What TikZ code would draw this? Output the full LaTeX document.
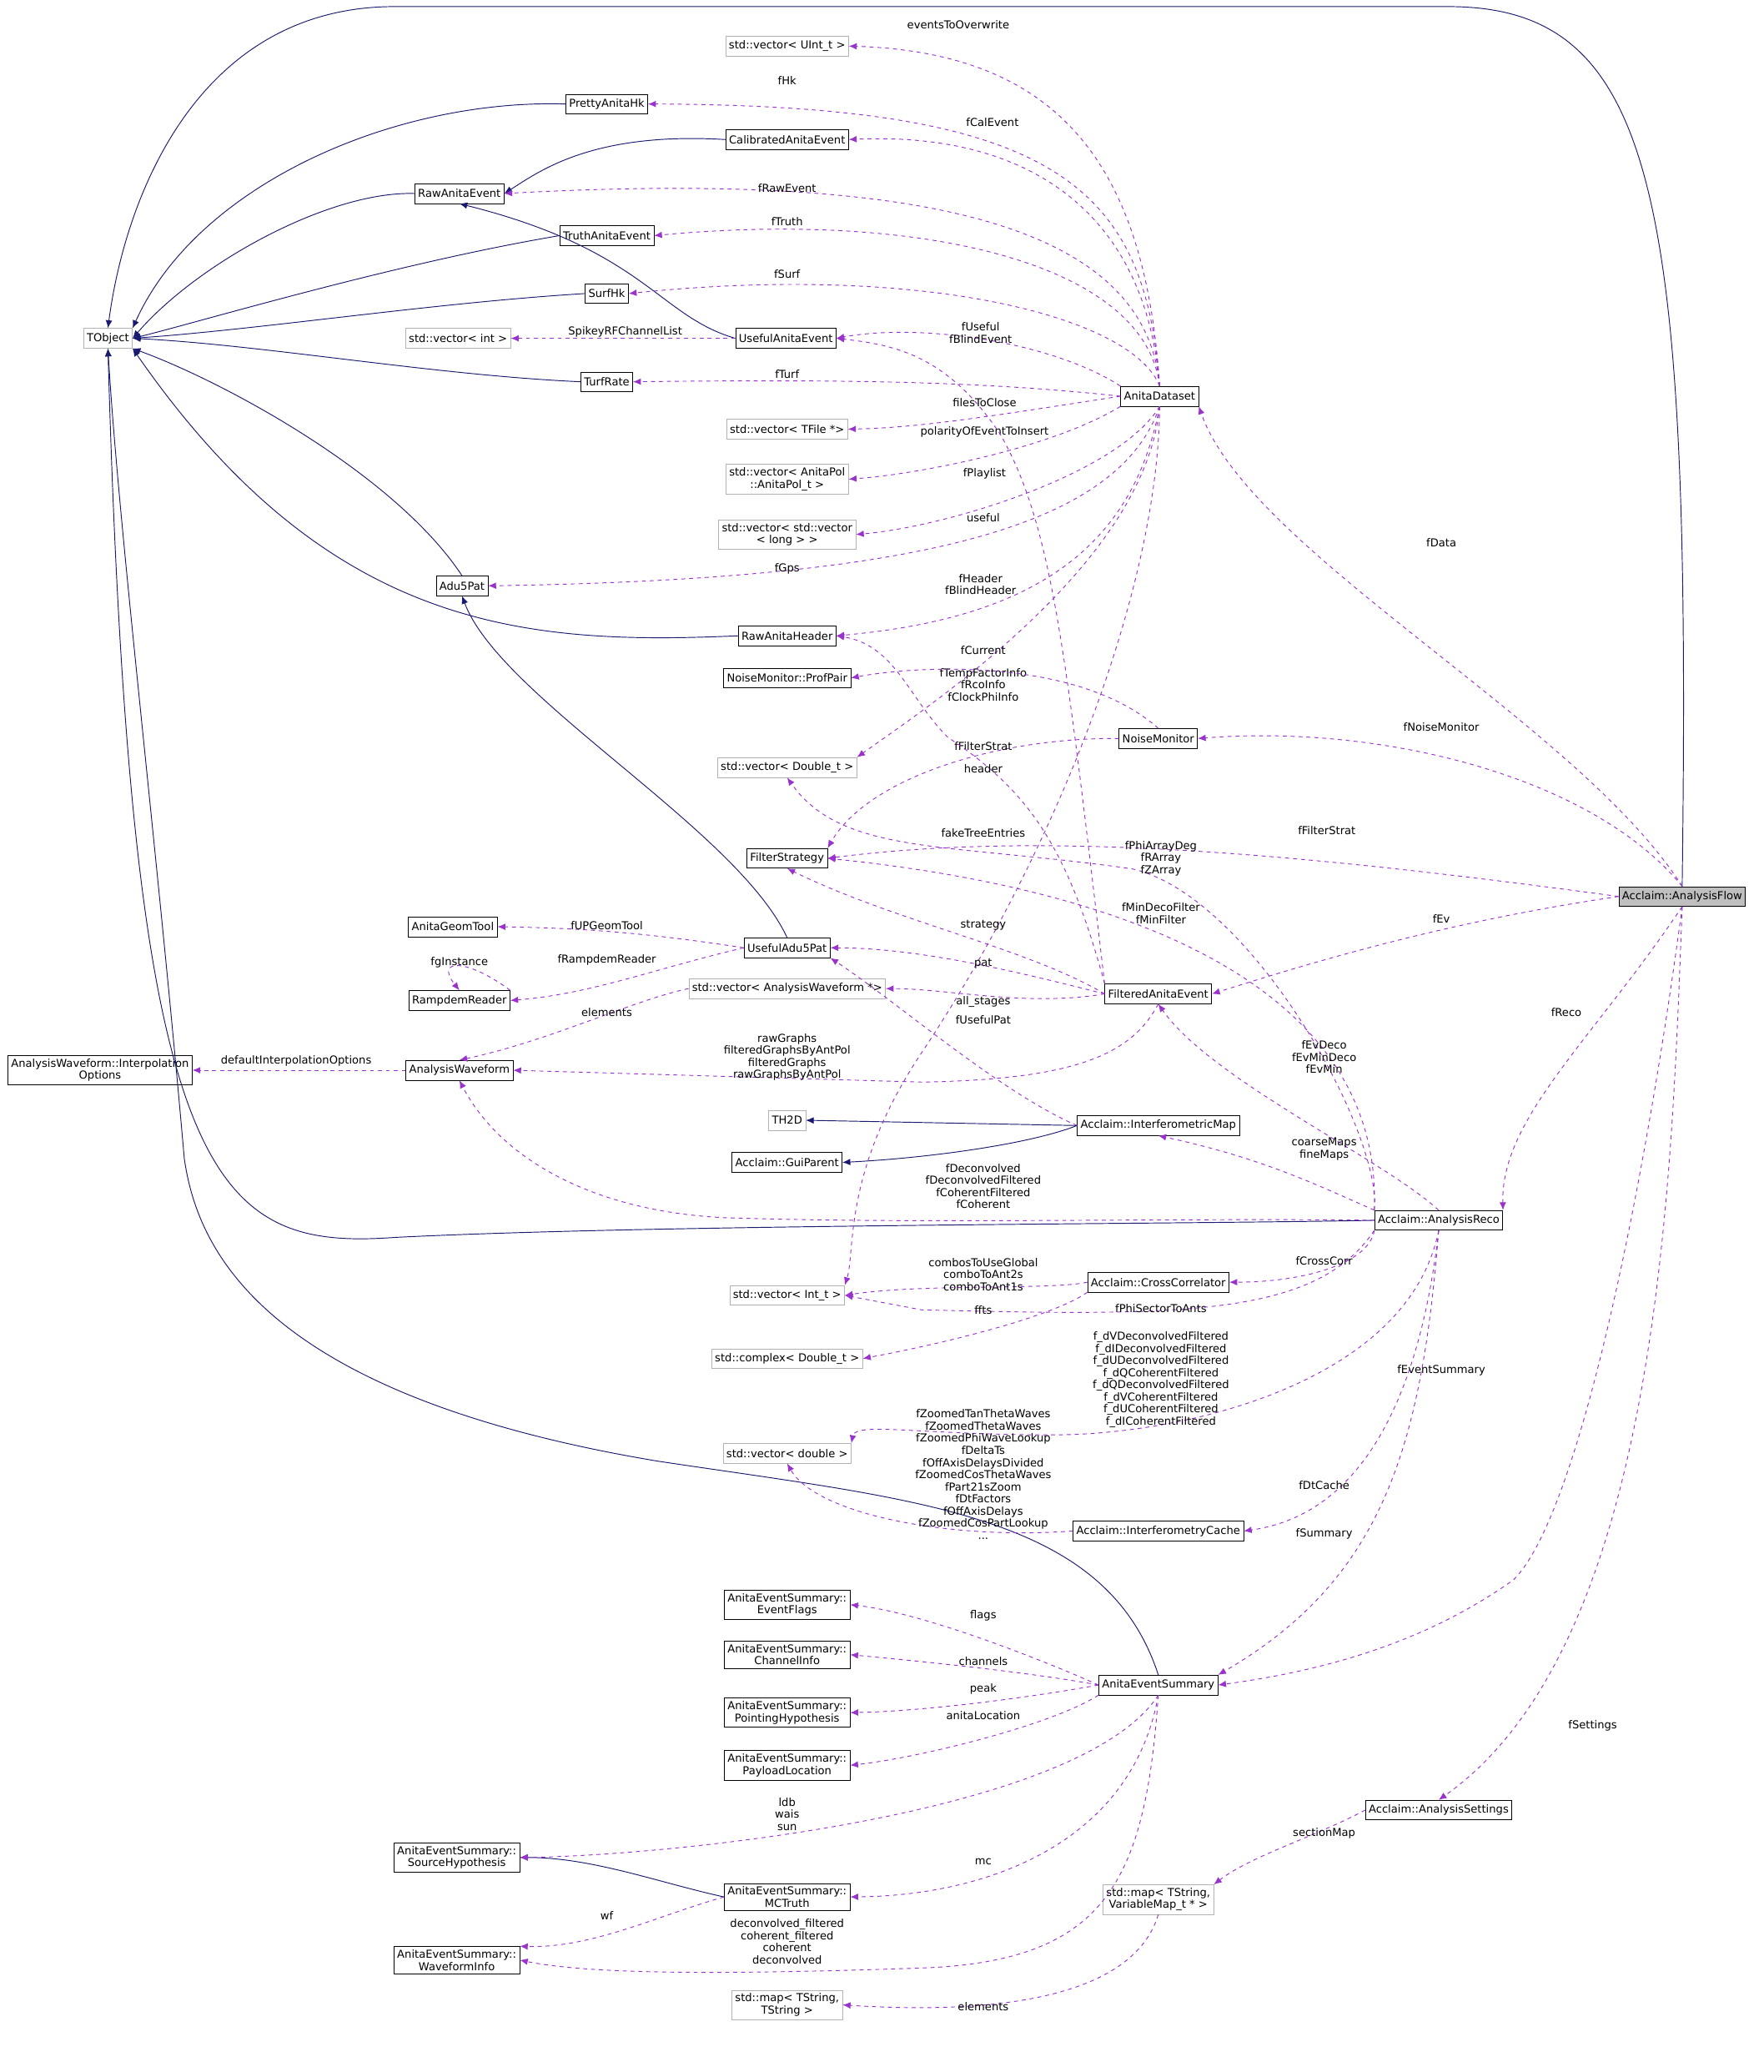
\documentclass[tikz,border=0pt]{standalone}
\usepackage{fontspec}
\setmainfont{DejaVu Sans}
\definecolor{inhc}{RGB}{25,25,112}
\definecolor{depc}{RGB}{154,50,205}
\begin{document}
\begin{tikzpicture}[x=1pt,y=-1pt,
 box/.style={draw=black,fill=white,inner sep=2.5pt,font=\fontsize{8.3}{9.2}\selectfont,align=center,minimum height=15pt},
 gbox/.style={box,draw=black!30},
 inh/.style={draw=inhc,semithick,-{Latex[length=6pt,width=5pt]}},
 dep/.style={draw=depc,dashed,semithick,-{Latex[length=6pt,width=5pt]}},
 lb/.style={font=\fontsize{8.3}{9.2}\selectfont,align=center,inner sep=1pt}]
\useasboundingbox (0,0) rectangle (1340,1574);
\usetikzlibrary{arrows.meta}
% nodes
\node[gbox] (tobj) at (82,257) {TObject};
\node[gbox] (vuint) at (598,35) {std::vector< UInt\_t >};
\node[box] (phk) at (461,79) {PrettyAnitaHk};
\node[box] (cal) at (598,106) {CalibratedAnitaEvent};
\node[box] (rae) at (349,147) {RawAnitaEvent};
\node[box] (truth) at (461,179) {TruthAnitaEvent};
\node[box] (surf) at (461,223) {SurfHk};
\node[gbox] (vint) at (348,257) {std::vector< int >};
\node[box] (uae) at (597,257) {UsefulAnitaEvent};
\node[box] (turf) at (461,290) {TurfRate};
\node[box] (ds) at (881,301) {AnitaDataset};
\node[gbox] (vtfile) at (598,326) {std::vector< TFile *>};
\node[gbox] (vpol) at (598,364) {std::vector< AnitaPol\\::AnitaPol\_t >};
\node[gbox] (vvl) at (598,406) {std::vector< std::vector\\< long > >};
\node[box] (adu) at (351,445) {Adu5Pat};
\node[box] (rah) at (598,483) {RawAnitaHeader};
\node[box] (pp) at (598,515) {NoiseMonitor::ProfPair};
\node[box] (nm) at (880,561) {NoiseMonitor};
\node[gbox] (vdbl) at (598,583) {std::vector< Double\_t >};
\node[box] (fs) at (598,652) {FilterStrategy};
\node[box] (geom) at (344,704) {AnitaGeomTool};
\node[box] (uap) at (598,720) {UsefulAdu5Pat};
\node[box] (ramp) at (349,760) {RampdemReader};
\node[gbox] (vaw) at (598,751) {std::vector< AnalysisWaveform *>};
\node[box] (fae) at (880,755) {FilteredAnitaEvent};
\node[box] (interp) at (76,813) {AnalysisWaveform::Interpolation\\Options};
\node[box] (aw) at (349,813) {AnalysisWaveform};
\node[gbox] (th2d) at (598,851) {TH2D};
\node[box] (imap) at (880,855) {Acclaim::InterferometricMap};
\node[box] (gui) at (598,883) {Acclaim::GuiParent};
\node[box] (reco) at (1093,927) {Acclaim::AnalysisReco};
\node[box,fill=black!25] (flow) at (1278,681) {Acclaim::AnalysisFlow};
\node[box] (cc) at (880,974) {Acclaim::CrossCorrelator};
\node[gbox] (vInt) at (598,984) {std::vector< Int\_t >};
\node[gbox] (cplx) at (598,1032) {std::complex< Double\_t >};
\node[gbox] (vd) at (598,1104) {std::vector< double >};
\node[box] (ic) at (880,1163) {Acclaim::InterferometryCache};
\node[box] (ef) at (598,1219) {AnitaEventSummary::\\EventFlags};
\node[box] (ci) at (598,1257) {AnitaEventSummary::\\ChannelInfo};
\node[box] (ph) at (598,1301) {AnitaEventSummary::\\PointingHypothesis};
\node[box] (pl) at (598,1341) {AnitaEventSummary::\\PayloadLocation};
\node[box] (aes) at (880,1280) {AnitaEventSummary};
\node[box] (sh) at (347,1411) {AnitaEventSummary::\\SourceHypothesis};
\node[box] (mc) at (598,1441) {AnitaEventSummary::\\MCTruth};
\node[box] (wi) at (347,1489) {AnitaEventSummary::\\WaveformInfo};
\node[box] (set) at (1093,1375) {Acclaim::AnalysisSettings};
\node[gbox] (mvm) at (880,1443) {std::map< TString,\\VariableMap\_t * >};
\node[gbox] (mts) at (598,1523) {std::map< TString,\\TString >};
% inheritance
\draw[inh] (flow.north) .. controls (1285,150) and (1260,5) .. (1100,5) -- (300,5) .. controls (150,5) and (95,150) .. (tobj.north);
\draw[inh] (phk.west) .. controls (300,75) and (150,140) .. (tobj.north east);
\draw[inh] (rae.west) .. controls (250,145) and (150,200) .. (tobj.east);
\draw[inh] (truth.west) .. controls (300,200) and (150,245) .. (tobj.east);
\draw[inh] (surf.west) .. controls (330,230) and (200,250) .. (tobj.east);
\draw[inh] (turf.west) .. controls (330,285) and (200,262) .. (tobj.east);
\draw[inh] (adu.north) .. controls (300,360) and (170,290) .. (tobj.south east);
\draw[inh] (rah.west) .. controls (400,490) and (250,480) .. (tobj.south east);
\draw[inh] (cal.west) .. controls (450,100) and (410,130) .. (rae.east);
\draw[inh] (uae.west) .. controls (500,240) and (490,190) .. (rae.south);
\draw[inh] (uap.north) .. controls (560,630) and (380,530) .. (adu.south);
\draw[inh] (reco.west) .. controls (900,930) and (500,930) .. (300,940) .. controls (160,950) and (100,900) .. (tobj.south);
\draw[inh] (aes.north) .. controls (840,1150) and (700,1140) .. (500,1110) .. controls (200,1060) and (150,950) .. (140,880) .. controls (120,650) and (90,400) .. (tobj.south);
\draw[inh] (imap.west) -- (th2d.east);
\draw[inh] (imap.west) .. controls (780,870) and (700,880) .. (gui.east);
\draw[inh] (mc.west) .. controls (500,1430) and (450,1411) .. (sh.east);
% AnitaDataset members
\draw[dep] (ds.north) .. controls (870,120) and (800,40) .. (vuint.east);
\node[lb] at (728,19) {eventsToOverwrite};
\draw[dep] (ds.north) .. controls (870,140) and (800,80) .. (phk.east);
\node[lb] at (598,61) {fHk};
\draw[dep] (ds.north) .. controls (870,160) and (780,100) .. (cal.east);
\node[lb] at (754,93) {fCalEvent};
\draw[dep] (ds.north) .. controls (870,170) and (700,130) .. (rae.east);
\node[lb] at (598,143) {fRawEvent};
\draw[dep] (ds.north) .. controls (870,200) and (700,160) .. (truth.east);
\node[lb] at (598,168) {fTruth};
\draw[dep] (ds.north) .. controls (860,240) and (700,200) .. (surf.east);
\node[lb] at (598,208) {fSurf};
\draw[dep] (ds.north west) .. controls (800,260) and (700,245) .. (uae.east);
\node[lb] at (745,253) {fUseful\\fBlindEvent};
\draw[dep] (ds.west) .. controls (750,290) and (650,288) .. (turf.east);
\node[lb] at (598,284) {fTurf};
\draw[dep] (ds.west) .. controls (760,315) and (700,325) .. (vtfile.east);
\node[lb] at (748,306) {filesToClose};
\draw[dep] (ds.south west) .. controls (800,340) and (700,360) .. (vpol.east);
\node[lb] at (748,328) {polarityOfEventToInsert};
\draw[dep] (ds.south) .. controls (850,360) and (720,400) .. (vvl.east);
\node[lb] at (748,360) {fPlaylist};
\draw[dep] (ds.south) .. controls (850,400) and (700,440) .. (adu.east);
\node[lb] at (598,432) {fGps};
\draw[dep] (ds.south) .. controls (860,420) and (780,470) .. (rah.east);
\node[lb] at (745,444) {fHeader\\fBlindHeader};
\draw[dep] (ds.south) .. controls (870,430) and (700,540) .. (vdbl.north east);
\node[lb] at (747,520) {fTempFactorInfo\\fRcoInfo\\fClockPhiInfo};
\draw[dep] (ds.south) .. controls (880,450) and (800,650) .. (700,800) .. controls (640,890) and (650,950) .. (vInt.north east);
\node[lb] at (747,633) {fakeTreeEntries};
\draw[dep] (uae.west) -- (vint.east);
\node[lb] at (475,252) {SpikeyRFChannelList};
% NoiseMonitor
\draw[dep] (nm.north) .. controls (820,500) and (700,505) .. (pp.east);
\node[lb] at (747,494) {fCurrent};
\draw[dep] (nm.west) .. controls (760,560) and (660,590) .. (fs.north east);
\node[lb] at (747,567) {fFilterStrat};
% AnalysisFlow
\draw[dep] (flow.north) .. controls (1200,550) and (950,420) .. (ds.south east);
\node[lb] at (1095,412) {fData};
\draw[dep] (flow.north) .. controls (1210,590) and (1050,550) .. (nm.east);
\node[lb] at (1095,552) {fNoiseMonitor};
\draw[dep] (flow.west) .. controls (1000,650) and (800,630) .. (fs.east);
\node[lb] at (1008,631) {fFilterStrat};
\draw[dep] (flow.west) .. controls (1100,700) and (1000,730) .. (fae.east);
\node[lb] at (1095,698) {fEv};
\draw[dep] (flow.south) .. controls (1210,790) and (1140,850) .. (reco.north east);
\node[lb] at (1190,769) {fReco};
\draw[dep] (flow.south) .. controls (1250,900) and (1200,1150) .. (1150,1200) .. controls (1080,1250) and (1000,1270) .. (aes.east);
\node[lb] at (1095,1041) {fEventSummary};
\draw[dep] (flow.south) .. controls (1270,900) and (1260,1250) .. (set.north);
\node[lb] at (1210,1311) {fSettings};
% FilteredAnitaEvent
\draw[dep] (fae.north west) .. controls (810,500) and (800,400) .. (760,330) .. controls (720,270) and (680,262) .. (uae.east);
\node[lb] at (747,393) {useful};
\draw[dep] (fae.north west) .. controls (810,640) and (780,600) .. (720,560) .. controls (690,530) and (680,490) .. (rah.east);
\node[lb] at (747,584) {header};
\draw[dep] (fae.west) .. controls (780,720) and (680,700) .. (fs.south);
\node[lb] at (747,703) {strategy};
\draw[dep] (fae.west) .. controls (780,740) and (700,720) .. (uap.east);
\node[lb] at (747,732) {pat};
\draw[dep] (fae.west) .. controls (780,765) and (720,751) .. (vaw.east);
\node[lb] at (747,761) {all\_stages};
\draw[dep] (fae.south) .. controls (860,800) and (820,820) .. (700,822) -- (aw.east);
\node[lb] at (598,803) {rawGraphs\\filteredGraphsByAntPol\\filteredGraphs\\rawGraphsByAntPol};
\draw[dep] (uap.west) .. controls (500,710) and (450,705) .. (geom.east);
\node[lb] at (461,703) {fUPGeomTool};
\draw[dep] (uap.west) .. controls (500,735) and (450,755) .. (ramp.east);
\node[lb] at (461,729) {fRampdemReader};
\draw[dep] (ramp.north east) .. controls (355,728) and (330,728) .. (ramp.north);
\node[lb] at (349,731) {fgInstance};
\draw[dep] (vaw.west) .. controls (480,760) and (420,790) .. (aw.north);
\node[lb] at (461,769) {elements};
\draw[dep] (aw.west) -- (interp.east);
\node[lb] at (225,806) {defaultInterpolationOptions};
\draw[dep] (imap.west) .. controls (760,830) and (680,760) .. (uap.south east);
\node[lb] at (747,775) {fUsefulPat};
% AnalysisReco
\draw[dep] (reco.north west) .. controls (1050,860) and (950,680) .. (860,660) .. controls (720,640) and (640,650) .. (vdbl.south);
\node[lb] at (882,652) {fPhiArrayDeg\\fRArray\\fZArray};
\draw[dep] (reco.north west) .. controls (1050,770) and (900,680) .. (fs.east);
\node[lb] at (882,694) {fMinDecoFilter\\fMinFilter};
\draw[dep] (reco.north) .. controls (1050,880) and (920,820) .. (fae.south);
\node[lb] at (1006,803) {fEvDeco\\fEvMinDeco\\fEvMin};
\draw[dep] (reco.north west) .. controls (1000,900) and (960,880) .. (imap.south);
\node[lb] at (1006,873) {coarseMaps\\fineMaps};
\draw[dep] (reco.west) .. controls (900,925) and (700,930) .. (550,925) .. controls (450,920) and (380,880) .. (aw.south);
\node[lb] at (747,901) {fDeconvolved\\fDeconvolvedFiltered\\fCoherentFiltered\\fCoherent};
\draw[dep] (reco.south west) .. controls (1040,960) and (990,974) .. (cc.east);
\node[lb] at (1006,958) {fCrossCorr};
\draw[dep] (reco.south west) .. controls (1000,1000) and (900,1000) .. (700,995) -- (vInt.east);
\node[lb] at (882,994) {fPhiSectorToAnts};
\draw[dep] (reco.south) .. controls (1070,1050) and (900,1090) .. (800,1090) .. controls (700,1090) and (650,1080) .. (vd.north east);
\node[lb] at (882,1048) {f\_dVDeconvolvedFiltered\\f\_dIDeconvolvedFiltered\\f\_dUDeconvolvedFiltered\\f\_dQCoherentFiltered\\f\_dQDeconvolvedFiltered\\f\_dVCoherentFiltered\\f\_dUCoherentFiltered\\f\_dICoherentFiltered};
\draw[dep] (reco.south) .. controls (1080,1050) and (1040,1150) .. (ic.east);
\node[lb] at (1006,1128) {fDtCache};
\draw[dep] (reco.south) .. controls (1080,1100) and (1050,1200) .. (aes.north east);
\node[lb] at (1006,1165) {fSummary};
\draw[dep] (cc.west) .. controls (800,980) and (700,975) .. (vInt.east);
\node[lb] at (747,968) {combosToUseGlobal\\comboToAnt2s\\comboToAnt1s};
\draw[dep] (cc.south west) .. controls (800,1000) and (720,1020) .. (cplx.east);
\node[lb] at (747,995) {ffts};
\draw[dep] (ic.west) .. controls (720,1170) and (620,1150) .. (vd.south);
\node[lb] at (747,1120) {fZoomedTanThetaWaves\\fZoomedThetaWaves\\fZoomedPhiWaveLookup\\fDeltaTs\\fOffAxisDelaysDivided\\fZoomedCosThetaWaves\\fPart21sZoom\\fDtFactors\\fOffAxisDelays\\fZoomedCosPartLookup\\...};
% AnitaEventSummary
\draw[dep] (aes.west) .. controls (790,1260) and (700,1225) .. (ef.east);
\node[lb] at (747,1227) {flags};
\draw[dep] (aes.west) .. controls (780,1270) and (700,1262) .. (ci.east);
\node[lb] at (747,1262) {channels};
\draw[dep] (aes.west) .. controls (780,1290) and (700,1300) .. (ph.east);
\node[lb] at (747,1283) {peak};
\draw[dep] (aes.south west) .. controls (800,1310) and (700,1335) .. (pl.east);
\node[lb] at (747,1303) {anitaLocation};
\draw[dep] (aes.south) .. controls (820,1380) and (500,1410) .. (sh.east);
\node[lb] at (598,1378) {ldb\\wais\\sun};
\draw[dep] (aes.south) .. controls (860,1400) and (750,1440) .. (mc.east);
\node[lb] at (747,1414) {mc};
\draw[dep] (aes.south) .. controls (870,1430) and (840,1490) .. (700,1495) .. controls (550,1500) and (450,1500) .. (wi.east);
\node[lb] at (598,1475) {deconvolved\_filtered\\coherent\_filtered\\coherent\\deconvolved};
\draw[dep] (mc.west) .. controls (500,1455) and (450,1480) .. (wi.north east);
\node[lb] at (461,1455) {wf};
\draw[dep] (set.west) .. controls (1000,1395) and (950,1410) .. (mvm.north east);
\node[lb] at (1006,1393) {sectionMap};
\draw[dep] (mvm.south) .. controls (860,1520) and (750,1530) .. (mts.east);
\node[lb] at (747,1524) {elements};
\end{tikzpicture}
\end{document}
